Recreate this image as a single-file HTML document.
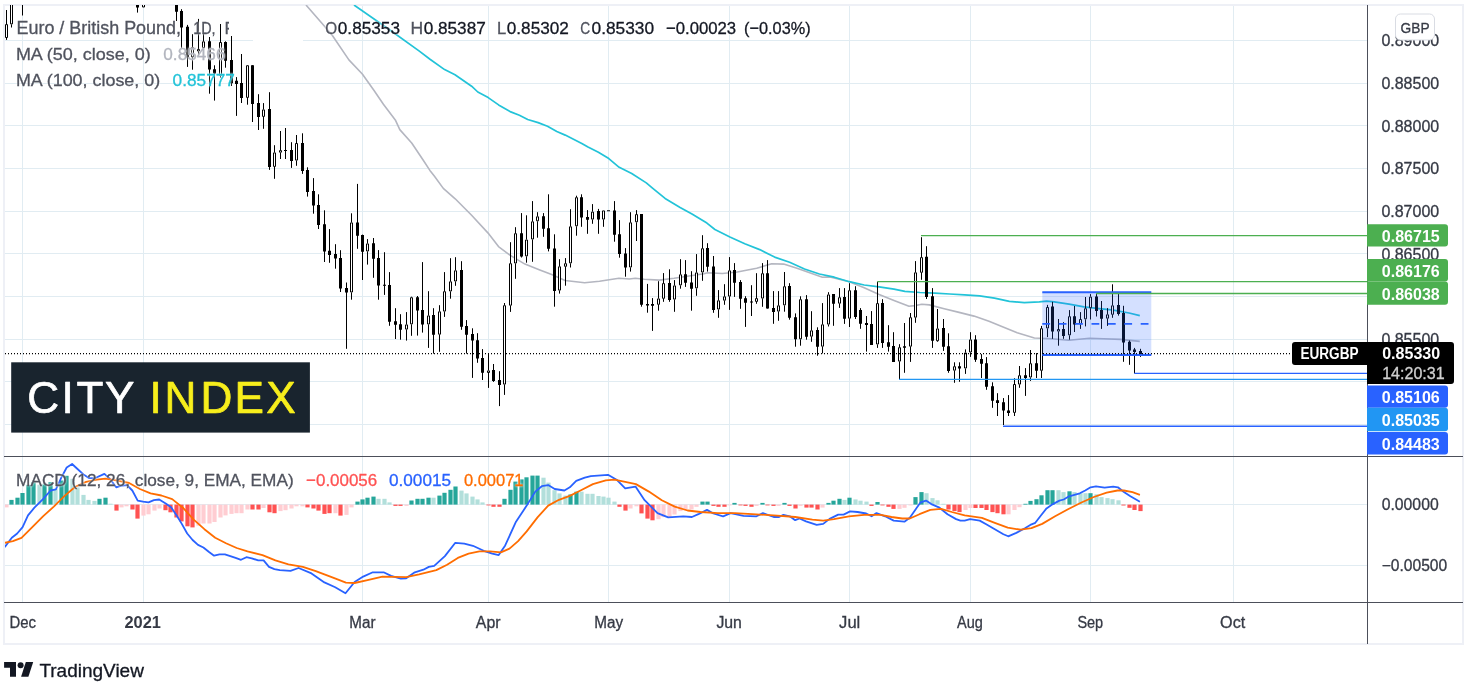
<!DOCTYPE html><html><head><meta charset="utf-8"><title>EURGBP chart</title><style>html,body{margin:0;padding:0;background:#fff}svg{display:block;will-change:transform}</style></head><body><svg width="1478" height="697" viewBox="0 0 1478 697" font-family="&quot;Liberation Sans&quot;, sans-serif">
<rect width="1478" height="697" fill="#fff"/>
<defs><clipPath id="cm"><rect x="5" y="5" width="1362" height="451"/></clipPath><clipPath id="cp"><rect x="5" y="457" width="1362" height="145"/></clipPath></defs>
<rect x="4" y="5" width="1459" height="639" fill="none" stroke="#eef0f6" stroke-width="2"/>
<path d="M5 40.5H1367 M5 83.5H1367 M5 125.5H1367 M5 168.5H1367 M5 211.5H1367 M5 253.5H1367 M5 296.5H1367 M5 339.5H1367 M5 381.5H1367 M5 424.5H1367 M5 504.5H1367 M5 565.5H1367 M22.5 6V602 M143.5 6V602 M362.5 6V602 M488.5 6V602 M608.5 6V602 M729.5 6V602 M849.5 6V602 M970.5 6V602 M1090.5 6V602 M1233.5 6V602" stroke="#e1ecf2" stroke-width="1" fill="none"/>
<rect x="253" y="14" width="50" height="28" fill="#fff"/>
<g clip-path="url(#cm)"><path d="M306.0 5.0 L331.7 34.5 L348.9 59.9 L362.3 74.0 L373.7 90.0 L383.4 104.2 L395.3 119.9 L399.8 129.6 L411.7 143.0 L423.1 160.0 L429.9 170.4 L434.1 175.8 L443.3 188.4 L455.2 198.8 L471.6 215.2 L488.1 233.1 L498.5 246.6 L509.9 255.1 L524.9 264.1 L539.8 270.1 L551.7 274.6 L565.1 280.5 L584.6 282.8 L599.5 281.3 L618.9 278.3 L629.3 279.0 L635.3 278.3 L644.3 279.3 L659.2 280.1 L674.1 278.3 L689.0 276.0 L704.0 273.8 L707.5 272.8 L722.4 273.5 L737.3 272.0 L756.7 268.3 L771.6 263.8 L783.6 264.1 L797.0 268.3 L822.4 277.2 L829.9 276.9 L849.3 281.7 L864.2 287.7 L879.1 294.4 L894.0 300.4 L909.0 306.3 L914.9 305.6 L921.8 304.2 L929.3 304.9 L944.2 308.7 L959.1 312.4 L974.0 316.1 L989.0 321.3 L1000.0 325.8 L1017.2 332.8 L1034.4 338.0 L1051.6 338.8 L1068.8 340.2 L1089.5 338.3 L1103.3 338.8 L1120.5 339.4 L1139.8 341.4" stroke="#b4b6c0" stroke-width="1.6" fill="none" stroke-linejoin="round"/>
<path d="M354.0 5.0 L392.0 31.5 L419.0 50.9 L430.0 59.2 L444.6 69.6 L455.0 74.8 L471.6 86.2 L477.8 92.0 L488.2 97.6 L498.6 104.9 L510.1 111.6 L519.4 115.3 L527.7 119.5 L538.1 122.6 L547.5 126.3 L556.8 131.5 L565.2 135.1 L573.5 139.2 L581.8 143.4 L588.0 147.1 L598.4 152.3 L608.8 158.6 L619.2 167.3 L631.7 173.5 L646.3 182.9 L652.5 188.1 L665.1 198.4 L680.1 207.4 L692.0 214.1 L706.9 223.1 L714.9 229.5 L729.9 236.9 L744.8 243.7 L759.7 249.6 L774.6 257.1 L789.6 262.3 L804.5 269.0 L819.4 274.0 L834.3 277.2 L849.3 281.7 L864.2 285.0 L879.1 286.9 L894.0 289.2 L904.9 291.4 L919.9 292.5 L934.8 293.2 L949.7 294.0 L964.6 294.9 L979.6 295.9 L994.5 298.1 L1009.4 301.4 L1024.3 302.6 L1039.3 301.9 L1046.7 301.1 L1054.2 301.9 L1069.1 304.1 L1084.0 306.8 L1099.0 308.6 L1111.9 309.9 L1129.1 313.0 L1139.8 315.6" stroke="#22c3d8" stroke-width="1.7" fill="none" stroke-linejoin="round"/>
<path d="M6.50 10.0V24.1 M6.50 38.0V39.9 M11.50 24.4V27.5 M22.50 0.0V15.5 M137.50 0.0V12.6 M176.50 0.0V21.0 M181.50 9.2V47.8 M187.50 24.9V66.9 M192.50 34.2V47.1 M192.50 57.4V69.7 M198.50 18.9V48.9 M198.50 51.5V57.0 M203.50 22.4V41.3 M203.50 48.1V54.0 M209.50 37.0V93.7 M214.50 65.3V100.6 M220.50 24.0V42.0 M220.50 75.9V77.6 M225.50 41.3V67.7 M231.50 36.0V86.0 M236.50 77.1V115.9 M241.50 54.0V103.0 M247.50 97.9V104.7 M252.50 65.2V122.0 M258.50 94.2V130.0 M263.50 103.1V109.4 M263.50 116.9V128.8 M269.50 92.2V169.9 M274.50 145.2V152.4 M274.50 166.9V178.8 M280.50 131.0V150.1 M280.50 152.7V159.0 M285.50 128.0V159.0 M291.50 142.2V167.9 M296.50 135.0V143.0 M296.50 160.6V165.8 M302.50 133.3V173.9 M307.50 167.3V196.6 M313.50 178.1V213.7 M318.50 194.3V229.0 M324.50 210.3V262.0 M329.50 229.1V262.8 M335.50 244.2V268.7 M340.50 250.2V292.0 M346.50 282.5V348.8 M351.50 213.3V222.4 M351.50 292.5V299.7 M357.50 183.9V248.8 M362.50 234.6V280.0 M367.50 239.1V243.4 M367.50 251.5V264.6 M373.50 238.0V277.8 M378.50 250.1V299.7 M384.50 252.2V294.9 M389.50 272.1V325.8 M395.50 308.2V339.0 M400.50 314.2V339.7 M406.50 312.1V324.4 M406.50 329.6V340.6 M411.50 296.7V297.2 M411.50 324.4V335.8 M417.50 296.0V335.6 M422.50 262.1V332.6 M428.50 291.2V315.4 M428.50 324.5V347.9 M433.50 308.2V353.6 M439.50 305.2V311.3 M439.50 334.7V351.8 M444.50 272.1V291.2 M444.50 311.6V316.9 M450.50 258.2V281.3 M450.50 291.5V298.7 M455.50 257.2V270.3 M455.50 281.5V285.8 M461.50 261.2V329.8 M466.50 320.1V353.6 M472.50 328.3V377.9 M477.50 333.2V362.8 M482.50 349.1V380.0 M488.50 353.6V370.4 M488.50 373.0V387.9 M493.50 364.0V381.9 M499.50 371.2V406.1 M504.50 303.0V305.2 M504.50 384.6V394.9 M510.50 242.2V263.2 M510.50 305.7V311.9 M515.50 227.2V233.2 M515.50 263.5V278.8 M521.50 213.1V257.5 M526.50 215.3V239.5 M526.50 256.4V262.7 M532.50 201.1V221.3 M532.50 239.5V261.8 M537.50 212.2V216.3 M537.50 221.3V237.7 M543.50 213.1V236.8 M548.50 194.3V251.4 M554.50 234.3V306.7 M559.50 259.2V266.3 M559.50 290.6V293.6 M565.50 258.1V263.2 M565.50 266.8V285.7 M570.50 209.2V226.3 M570.50 263.4V267.5 M576.50 195.7V197.2 M576.50 226.3V235.7 M581.50 194.3V226.8 M587.50 210.1V233.8 M592.50 204.1V211.6 M592.50 219.6V223.8 M598.50 208.9V233.8 M603.50 219.6V226.8 M614.50 201.1V241.7 M619.50 220.1V257.7 M625.50 248.1V276.7 M630.50 212.2V222.3 M630.50 267.5V271.6 M636.50 210.1V214.1 M636.50 222.3V241.0 M641.50 214.1V306.7 M647.50 283.9V312.7 M652.50 298.1V330.9 M658.50 281.2V298.4 M658.50 304.8V310.7 M663.50 273.1V283.1 M663.50 298.8V301.8 M669.50 269.3V301.8 M674.50 280.1V285.4 M674.50 299.6V311.8 M680.50 259.2V274.3 M680.50 285.4V288.7 M685.50 260.1V286.9 M691.50 271.2V310.7 M696.50 254.1V272.4 M696.50 288.4V295.8 M702.50 235.2V248.2 M702.50 272.5V280.8 M707.50 243.2V271.6 M713.50 256.0V312.8 M718.50 290.1V300.3 M718.50 309.5V317.8 M724.50 284.2V296.3 M724.50 300.7V304.8 M729.50 257.1V270.3 M729.50 296.6V309.9 M734.50 263.1V296.9 M740.50 280.1V308.8 M745.50 296.2V326.9 M751.50 285.2V316.0 M756.50 273.2V298.1 M756.50 301.9V303.8 M762.50 263.1V273.2 M762.50 298.6V306.8 M767.50 260.1V308.6 M773.50 291.1V323.8 M778.50 291.1V305.3 M778.50 311.6V320.8 M784.50 272.0V286.2 M784.50 305.4V311.7 M789.50 283.2V319.7 M795.50 313.4V346.7 M800.50 296.3V299.2 M800.50 339.3V345.7 M806.50 295.1V339.7 M811.50 311.2V330.3 M811.50 336.7V341.8 M817.50 327.3V355.7 M822.50 303.1V324.3 M822.50 346.7V353.4 M828.50 292.2V294.4 M828.50 324.6V326.5 M833.50 294.1V325.8 M839.50 288.1V297.2 M839.50 303.7V307.9 M844.50 288.1V323.9 M849.50 283.2V290.2 M849.50 318.7V327.0 M855.50 286.2V319.0 M860.50 308.1V328.8 M866.50 316.0V351.6 M871.50 311.1V344.9 M877.50 281.7V303.1 M877.50 344.5V347.9 M882.50 299.2V347.9 M888.50 325.2V351.6 M893.50 332.2V361.9 M899.50 344.2V347.2 M899.50 361.6V379.3 M904.50 323.0V372.8 M910.50 313.0V317.2 M910.50 346.7V361.9 M915.50 261.1V272.3 M915.50 317.7V322.8 M921.50 237.2V257.1 M921.50 272.8V279.8 M926.50 246.2V299.0 M932.50 288.1V347.9 M937.50 309.0V328.4 M937.50 341.2V341.9 M943.50 319.0V350.9 M948.50 333.3V372.8 M954.50 362.3V366.2 M954.50 370.7V382.8 M959.50 362.3V381.8 M965.50 349.4V352.5 M965.50 368.5V373.9 M970.50 332.2V339.4 M970.50 352.5V356.9 M975.50 335.2V361.9 M981.50 354.1V378.0 M986.50 357.1V389.8 M992.50 382.3V407.8 M997.50 393.2V416.0 M1003.50 398.1V425.0 M1008.50 395.1V416.0 M1014.50 378.2V384.0 M1014.50 412.9V416.0 M1019.50 366.0V375.2 M1019.50 384.6V387.8 M1025.50 368.1V395.9 M1030.50 350.0V363.2 M1030.50 377.5V380.9 M1036.50 353.1V378.0 M1041.50 325.9V328.2 M1041.50 370.8V378.0 M1047.50 304.9V307.0 M1047.50 328.5V337.1 M1052.50 301.8V338.8 M1058.50 319.0V329.0 M1058.50 331.6V345.7 M1063.50 322.1V338.8 M1069.50 310.1V316.2 M1069.50 335.4V339.7 M1074.50 306.0V332.0 M1080.50 312.1V319.0 M1080.50 324.2V328.9 M1085.50 297.0V308.2 M1085.50 319.3V326.4 M1090.50 294.1V296.6 M1090.50 308.2V319.5 M1096.50 293.7V316.5 M1101.50 301.0V328.9 M1107.50 308.1V314.3 M1107.50 318.7V325.9 M1112.50 284.3V305.3 M1112.50 314.8V317.8 M1118.50 293.8V315.6 M1123.50 305.8V361.8 M1129.50 340.5V364.8 M1134.50 347.9V373.4 M1140.50 348.8V356.9" stroke="#000" stroke-width="1" fill="none"/>
<path d="M136.00 0.0h3v7.5h-3z M175.00 0.0h3v11.8h-3z M180.00 11.0h3v16.4h-3z M186.00 26.8h3v30.6h-3z M208.00 41.3h3v28.3h-3z M213.00 69.2h3v4.3h-3z M224.00 42.0h3v18.8h-3z M230.00 60.0h3v23.2h-3z M235.00 80.7h3v3.3h-3z M240.00 83.1h3v14.8h-3z M251.00 65.2h3v38.7h-3z M257.00 103.1h3v13.8h-3z M268.00 109.1h3v57.8h-3z M284.00 149.9h3v1.1h-3z M290.00 150.1h3v10.8h-3z M301.00 143.0h3v27.9h-3z M306.00 170.1h3v21.8h-3z M312.00 191.1h3v14.4h-3z M317.00 205.1h3v19.8h-3z M323.00 224.2h3v27.3h-3z M328.00 250.8h3v4.1h-3z M334.00 254.1h3v4.5h-3z M339.00 258.1h3v30.4h-3z M345.00 288.0h3v4.5h-3z M356.00 222.4h3v13.4h-3z M361.00 235.0h3v16.7h-3z M372.00 243.2h3v15.5h-3z M377.00 258.1h3v27.4h-3z M383.00 284.7h3v1.1h-3z M388.00 285.1h3v36.7h-3z M394.00 321.3h3v3.4h-3z M399.00 324.3h3v5.5h-3z M416.00 297.2h3v13.2h-3z M421.00 310.1h3v14.4h-3z M432.00 315.1h3v19.6h-3z M460.00 270.1h3v56.7h-3z M465.00 326.1h3v8.6h-3z M471.00 334.1h3v6.5h-3z M476.00 340.2h3v18.3h-3z M481.00 358.1h3v14.6h-3z M492.00 370.0h3v10.9h-3z M498.00 380.1h3v4.8h-3z M520.00 233.2h3v23.4h-3z M542.00 216.3h3v12.4h-3z M547.00 228.3h3v20.4h-3z M553.00 248.4h3v42.5h-3z M580.00 197.2h3v20.3h-3z M586.00 217.1h3v2.7h-3z M597.00 211.1h3v8.5h-3z M607.00 210.2h3v1.1h-3z M613.00 210.4h3v24.3h-3z M618.00 234.3h3v19.7h-3z M624.00 253.4h3v14.1h-3z M640.00 214.1h3v90.7h-3z M646.00 304.0h3v1.5h-3z M651.00 304.0h3v1.8h-3z M668.00 283.1h3v16.9h-3z M684.00 274.2h3v8.5h-3z M690.00 282.4h3v6.3h-3z M706.00 248.0h3v18.8h-3z M712.00 266.4h3v43.5h-3z M733.00 270.1h3v12.6h-3z M739.00 282.1h3v16.7h-3z M744.00 298.2h3v4.5h-3z M750.00 301.5h3v1.1h-3z M766.00 273.2h3v35.4h-3z M772.00 308.1h3v3.8h-3z M788.00 285.9h3v31.8h-3z M794.00 317.2h3v22.1h-3z M805.00 299.2h3v37.5h-3z M816.00 330.0h3v16.7h-3z M832.00 294.1h3v9.6h-3z M843.00 297.0h3v21.7h-3z M854.00 290.2h3v26.8h-3z M859.00 310.1h3v13.7h-3z M865.00 322.9h3v2.0h-3z M870.00 324.0h3v20.9h-3z M881.00 303.1h3v39.9h-3z M887.00 342.2h3v4.5h-3z M892.00 346.0h3v15.9h-3z M903.00 346.3h3v1.5h-3z M925.00 256.8h3v40.1h-3z M931.00 296.2h3v44.5h-3z M942.00 328.1h3v18.6h-3z M947.00 346.3h3v24.7h-3z M958.00 366.2h3v2.4h-3z M974.00 339.4h3v20.4h-3z M980.00 359.1h3v4.7h-3z M985.00 363.2h3v23.6h-3z M991.00 386.2h3v14.5h-3z M996.00 400.2h3v2.7h-3z M1002.00 402.2h3v8.2h-3z M1007.00 410.4h3v2.5h-3z M1024.00 375.2h3v2.8h-3z M1035.00 363.2h3v7.6h-3z M1051.00 306.5h3v25.1h-3z M1062.00 329.0h3v6.9h-3z M1073.00 316.2h3v8.3h-3z M1095.00 296.6h3v14.3h-3z M1100.00 310.0h3v8.8h-3z M1117.00 304.9h3v9.0h-3z M1122.00 313.0h3v29.5h-3z M1128.00 341.8h3v8.8h-3z M1133.00 349.5h3v2.4h-3z M1139.00 351.0h3v3.2h-3z" fill="#000"/>
<path d="M5.50 24.6h2v12.9h-2z M10.50 0.5h2v23.4h-2z M142.50 0.5h2v6.5h-2z M191.50 47.6h2v9.3h-2z M197.50 49.4h2v1.6h-2z M202.50 41.8h2v5.8h-2z M219.50 42.5h2v32.9h-2z M246.50 65.7h2v31.7h-2z M262.50 109.9h2v6.5h-2z M273.50 152.9h2v13.5h-2z M279.50 150.6h2v1.6h-2z M295.50 143.5h2v16.6h-2z M350.50 222.9h2v69.1h-2z M366.50 243.9h2v7.1h-2z M405.50 324.9h2v4.2h-2z M410.50 297.7h2v26.2h-2z M427.50 315.9h2v8.1h-2z M438.50 311.8h2v22.4h-2z M443.50 291.7h2v19.4h-2z M449.50 281.8h2v9.2h-2z M454.50 270.8h2v10.2h-2z M487.50 370.9h2v1.6h-2z M503.50 305.7h2v78.4h-2z M509.50 263.7h2v41.5h-2z M514.50 233.7h2v29.3h-2z M525.50 240.0h2v15.9h-2z M531.50 221.8h2v17.2h-2z M536.50 216.8h2v4.0h-2z M558.50 266.8h2v23.3h-2z M564.50 263.7h2v2.6h-2z M569.50 226.8h2v36.1h-2z M575.50 197.7h2v28.1h-2z M591.50 212.1h2v7.0h-2z M602.50 210.9h2v8.2h-2z M629.50 222.8h2v44.2h-2z M635.50 214.6h2v7.2h-2z M657.50 298.9h2v5.4h-2z M662.50 283.6h2v14.7h-2z M673.50 285.9h2v13.2h-2z M679.50 274.8h2v10.1h-2z M695.50 272.9h2v15.0h-2z M701.50 248.7h2v23.3h-2z M717.50 300.8h2v8.2h-2z M723.50 296.8h2v3.4h-2z M728.50 270.8h2v25.3h-2z M755.50 298.6h2v2.8h-2z M761.50 273.7h2v24.4h-2z M777.50 305.8h2v5.3h-2z M783.50 286.7h2v18.2h-2z M799.50 299.7h2v39.1h-2z M810.50 330.8h2v5.4h-2z M821.50 324.8h2v21.4h-2z M827.50 294.9h2v29.2h-2z M838.50 297.7h2v5.5h-2z M848.50 290.7h2v27.5h-2z M876.50 303.6h2v40.4h-2z M898.50 347.7h2v13.4h-2z M909.50 317.7h2v28.5h-2z M914.50 272.8h2v44.4h-2z M920.50 257.6h2v14.7h-2z M936.50 328.9h2v11.8h-2z M953.50 366.7h2v3.5h-2z M964.50 353.0h2v15.0h-2z M969.50 339.9h2v12.1h-2z M1013.50 384.5h2v27.9h-2z M1018.50 375.7h2v8.4h-2z M1029.50 363.7h2v13.3h-2z M1040.50 328.7h2v41.6h-2z M1046.50 307.5h2v20.5h-2z M1057.50 329.5h2v1.6h-2z M1068.50 316.7h2v18.2h-2z M1079.50 319.5h2v4.2h-2z M1084.50 308.7h2v10.1h-2z M1089.50 297.1h2v10.6h-2z M1106.50 314.8h2v3.4h-2z M1111.50 305.8h2v8.5h-2z" fill="#fff" stroke="#000" stroke-width="1"/>
</g>
<rect x="1042.3" y="292" width="109" height="63" fill="#2962ff" fill-opacity="0.2"/>
<path d="M1042.3 292.3H1151.3M1042.3 355H1151.3" stroke="#2962ff" stroke-width="2"/>
<path d="M1042.3 323.9H1151.3" stroke="#2962ff" stroke-width="1.6" stroke-dasharray="7.8 8.6"/>
<path d="M921 235.6H1367M877.3 281.6H1367M1096 293.5H1367" stroke="#4caf50" stroke-width="1.3" fill="none"/>
<path d="M1134.3 373.4H1367M1003 426.2H1367" stroke="#2962ff" stroke-width="1.4" fill="none"/>
<path d="M899 379.4H1367" stroke="#2196f3" stroke-width="1.4" fill="none"/>
<path d="M5 353.6H1367" stroke="#000" stroke-width="1.1" stroke-dasharray="1 2"/>
<g clip-path="url(#cp)">
<rect x="4.40" y="504.6" width="4.2" height="2.8" fill="#ffcdd2"/>
<rect x="9.40" y="499.9" width="4.2" height="4.7" fill="#26a69a"/>
<rect x="15.40" y="497.7" width="4.2" height="6.9" fill="#26a69a"/>
<rect x="20.40" y="493.0" width="4.2" height="11.6" fill="#26a69a"/>
<rect x="26.40" y="484.8" width="4.2" height="19.8" fill="#26a69a"/>
<rect x="31.40" y="482.2" width="4.2" height="22.4" fill="#26a69a"/>
<rect x="37.40" y="484.8" width="4.2" height="19.8" fill="#b2dfdb"/>
<rect x="42.40" y="484.4" width="4.2" height="20.2" fill="#26a69a"/>
<rect x="48.40" y="482.2" width="4.2" height="22.4" fill="#26a69a"/>
<rect x="53.40" y="489.1" width="4.2" height="15.5" fill="#b2dfdb"/>
<rect x="59.40" y="480.5" width="4.2" height="24.1" fill="#26a69a"/>
<rect x="64.40" y="475.8" width="4.2" height="28.8" fill="#26a69a"/>
<rect x="70.40" y="478.8" width="4.2" height="25.8" fill="#b2dfdb"/>
<rect x="75.40" y="487.4" width="4.2" height="17.2" fill="#b2dfdb"/>
<rect x="81.40" y="494.9" width="4.2" height="9.7" fill="#b2dfdb"/>
<rect x="86.40" y="499.9" width="4.2" height="4.7" fill="#b2dfdb"/>
<rect x="92.40" y="500.9" width="4.2" height="3.7" fill="#b2dfdb"/>
<rect x="97.40" y="498.8" width="4.2" height="5.8" fill="#26a69a"/>
<rect x="103.40" y="497.7" width="4.2" height="6.9" fill="#26a69a"/>
<rect x="108.40" y="503.7" width="4.2" height="0.9" fill="#b2dfdb"/>
<rect x="114.40" y="504.6" width="4.2" height="6.0" fill="#ff5252"/>
<rect x="119.40" y="504.6" width="4.2" height="2.8" fill="#ffcdd2"/>
<rect x="124.40" y="504.6" width="4.2" height="1.7" fill="#ffcdd2"/>
<rect x="130.40" y="504.6" width="4.2" height="4.9" fill="#ff5252"/>
<rect x="135.40" y="504.6" width="4.2" height="14.0" fill="#ff5252"/>
<rect x="141.40" y="504.6" width="4.2" height="11.0" fill="#ffcdd2"/>
<rect x="146.40" y="504.6" width="4.2" height="9.7" fill="#ffcdd2"/>
<rect x="152.40" y="504.6" width="4.2" height="6.0" fill="#ffcdd2"/>
<rect x="157.40" y="504.6" width="4.2" height="3.9" fill="#ffcdd2"/>
<rect x="163.40" y="504.6" width="4.2" height="5.6" fill="#ff5252"/>
<rect x="168.40" y="504.6" width="4.2" height="7.7" fill="#ff5252"/>
<rect x="174.40" y="504.6" width="4.2" height="12.9" fill="#ff5252"/>
<rect x="179.40" y="504.6" width="4.2" height="16.8" fill="#ff5252"/>
<rect x="185.40" y="504.6" width="4.2" height="21.7" fill="#ff5252"/>
<rect x="190.40" y="504.6" width="4.2" height="22.8" fill="#ff5252"/>
<rect x="196.40" y="504.6" width="4.2" height="21.1" fill="#ffcdd2"/>
<rect x="201.40" y="504.6" width="4.2" height="18.9" fill="#ffcdd2"/>
<rect x="207.40" y="504.6" width="4.2" height="18.9" fill="#ffcdd2"/>
<rect x="212.40" y="504.6" width="4.2" height="17.4" fill="#ffcdd2"/>
<rect x="218.40" y="504.6" width="4.2" height="12.9" fill="#ffcdd2"/>
<rect x="223.40" y="504.6" width="4.2" height="10.8" fill="#ffcdd2"/>
<rect x="229.40" y="504.6" width="4.2" height="9.3" fill="#ffcdd2"/>
<rect x="234.40" y="504.6" width="4.2" height="8.6" fill="#ffcdd2"/>
<rect x="239.40" y="504.6" width="4.2" height="8.6" fill="#ffcdd2"/>
<rect x="245.40" y="504.6" width="4.2" height="4.9" fill="#ffcdd2"/>
<rect x="250.40" y="504.6" width="4.2" height="4.9" fill="#ff5252"/>
<rect x="256.40" y="504.6" width="4.2" height="4.9" fill="#ff5252"/>
<rect x="261.40" y="504.6" width="4.2" height="3.4" fill="#ffcdd2"/>
<rect x="267.40" y="504.6" width="4.2" height="7.7" fill="#ff5252"/>
<rect x="272.40" y="504.6" width="4.2" height="8.6" fill="#ff5252"/>
<rect x="278.40" y="504.6" width="4.2" height="6.5" fill="#ffcdd2"/>
<rect x="283.40" y="504.6" width="4.2" height="5.6" fill="#ffcdd2"/>
<rect x="289.40" y="504.6" width="4.2" height="3.9" fill="#ffcdd2"/>
<rect x="294.40" y="504.6" width="4.2" height="1.7" fill="#ffcdd2"/>
<rect x="300.40" y="504.6" width="4.2" height="1.7" fill="#ffcdd2"/>
<rect x="305.40" y="504.6" width="4.2" height="2.8" fill="#ff5252"/>
<rect x="311.40" y="504.6" width="4.2" height="3.9" fill="#ff5252"/>
<rect x="316.40" y="504.6" width="4.2" height="6.0" fill="#ff5252"/>
<rect x="322.40" y="504.6" width="4.2" height="9.3" fill="#ff5252"/>
<rect x="327.40" y="504.6" width="4.2" height="8.6" fill="#ff5252"/>
<rect x="333.40" y="504.6" width="4.2" height="8.6" fill="#ffcdd2"/>
<rect x="338.40" y="504.6" width="4.2" height="11.0" fill="#ff5252"/>
<rect x="344.40" y="504.6" width="4.2" height="10.3" fill="#ffcdd2"/>
<rect x="349.40" y="504.6" width="4.2" height="2.8" fill="#ffcdd2"/>
<rect x="355.40" y="501.6" width="4.2" height="3.0" fill="#26a69a"/>
<rect x="360.40" y="499.4" width="4.2" height="5.2" fill="#26a69a"/>
<rect x="365.40" y="497.7" width="4.2" height="6.9" fill="#26a69a"/>
<rect x="371.40" y="496.6" width="4.2" height="8.0" fill="#26a69a"/>
<rect x="376.40" y="498.8" width="4.2" height="5.8" fill="#b2dfdb"/>
<rect x="382.40" y="498.8" width="4.2" height="5.8" fill="#b2dfdb"/>
<rect x="387.40" y="502.4" width="4.2" height="2.2" fill="#b2dfdb"/>
<rect x="393.40" y="504.6" width="4.2" height="1.3" fill="#ff5252"/>
<rect x="398.40" y="504.6" width="4.2" height="1.3" fill="#ff5252"/>
<rect x="404.40" y="504.6" width="4.2" height="1.3" fill="#ffcdd2"/>
<rect x="409.40" y="500.5" width="4.2" height="4.1" fill="#26a69a"/>
<rect x="415.40" y="498.8" width="4.2" height="5.8" fill="#26a69a"/>
<rect x="420.40" y="498.8" width="4.2" height="5.8" fill="#26a69a"/>
<rect x="426.40" y="497.7" width="4.2" height="6.9" fill="#26a69a"/>
<rect x="431.40" y="497.7" width="4.2" height="6.9" fill="#b2dfdb"/>
<rect x="437.40" y="495.6" width="4.2" height="9.0" fill="#26a69a"/>
<rect x="442.40" y="492.8" width="4.2" height="11.8" fill="#26a69a"/>
<rect x="448.40" y="489.8" width="4.2" height="14.8" fill="#26a69a"/>
<rect x="453.40" y="486.5" width="4.2" height="18.1" fill="#26a69a"/>
<rect x="459.40" y="490.6" width="4.2" height="14.0" fill="#b2dfdb"/>
<rect x="464.40" y="493.4" width="4.2" height="11.2" fill="#b2dfdb"/>
<rect x="470.40" y="496.6" width="4.2" height="8.0" fill="#b2dfdb"/>
<rect x="475.40" y="499.4" width="4.2" height="5.2" fill="#b2dfdb"/>
<rect x="480.40" y="502.4" width="4.2" height="2.2" fill="#b2dfdb"/>
<rect x="486.40" y="504.6" width="4.2" height="0.8" fill="#ff5252"/>
<rect x="491.40" y="504.6" width="4.2" height="2.2" fill="#ff5252"/>
<rect x="497.40" y="504.6" width="4.2" height="2.2" fill="#ff5252"/>
<rect x="502.40" y="498.8" width="4.2" height="5.8" fill="#26a69a"/>
<rect x="508.40" y="489.8" width="4.2" height="14.8" fill="#26a69a"/>
<rect x="513.40" y="481.6" width="4.2" height="23.0" fill="#26a69a"/>
<rect x="519.40" y="479.4" width="4.2" height="25.2" fill="#26a69a"/>
<rect x="524.40" y="477.3" width="4.2" height="27.3" fill="#26a69a"/>
<rect x="530.40" y="475.6" width="4.2" height="29.0" fill="#26a69a"/>
<rect x="535.40" y="475.6" width="4.2" height="29.0" fill="#26a69a"/>
<rect x="541.40" y="477.7" width="4.2" height="26.9" fill="#b2dfdb"/>
<rect x="546.40" y="482.6" width="4.2" height="22.0" fill="#b2dfdb"/>
<rect x="552.40" y="490.2" width="4.2" height="14.4" fill="#b2dfdb"/>
<rect x="557.40" y="493.4" width="4.2" height="11.2" fill="#b2dfdb"/>
<rect x="563.40" y="495.6" width="4.2" height="9.0" fill="#b2dfdb"/>
<rect x="568.40" y="494.5" width="4.2" height="10.1" fill="#26a69a"/>
<rect x="574.40" y="491.7" width="4.2" height="12.9" fill="#26a69a"/>
<rect x="579.40" y="491.7" width="4.2" height="12.9" fill="#b2dfdb"/>
<rect x="585.40" y="493.8" width="4.2" height="10.8" fill="#b2dfdb"/>
<rect x="590.40" y="493.8" width="4.2" height="10.8" fill="#b2dfdb"/>
<rect x="596.40" y="496.0" width="4.2" height="8.6" fill="#b2dfdb"/>
<rect x="601.40" y="496.6" width="4.2" height="8.0" fill="#b2dfdb"/>
<rect x="606.40" y="497.7" width="4.2" height="6.9" fill="#b2dfdb"/>
<rect x="612.40" y="501.6" width="4.2" height="3.0" fill="#b2dfdb"/>
<rect x="617.40" y="504.6" width="4.2" height="2.2" fill="#ff5252"/>
<rect x="623.40" y="504.6" width="4.2" height="6.0" fill="#ff5252"/>
<rect x="628.40" y="504.6" width="4.2" height="3.9" fill="#ffcdd2"/>
<rect x="634.40" y="504.6" width="4.2" height="1.7" fill="#ffcdd2"/>
<rect x="639.40" y="504.6" width="4.2" height="8.8" fill="#ff5252"/>
<rect x="645.40" y="504.6" width="4.2" height="14.0" fill="#ff5252"/>
<rect x="650.40" y="504.6" width="4.2" height="15.7" fill="#ff5252"/>
<rect x="656.40" y="504.6" width="4.2" height="14.6" fill="#ffcdd2"/>
<rect x="661.40" y="504.6" width="4.2" height="12.5" fill="#ffcdd2"/>
<rect x="667.40" y="504.6" width="4.2" height="12.5" fill="#ffcdd2"/>
<rect x="672.40" y="504.6" width="4.2" height="9.9" fill="#ffcdd2"/>
<rect x="678.40" y="504.6" width="4.2" height="6.5" fill="#ffcdd2"/>
<rect x="683.40" y="504.6" width="4.2" height="4.9" fill="#ffcdd2"/>
<rect x="689.40" y="504.6" width="4.2" height="4.9" fill="#ffcdd2"/>
<rect x="694.40" y="504.6" width="4.2" height="2.2" fill="#ffcdd2"/>
<rect x="700.40" y="501.6" width="4.2" height="3.0" fill="#26a69a"/>
<rect x="705.40" y="501.6" width="4.2" height="3.0" fill="#26a69a"/>
<rect x="711.40" y="504.6" width="4.2" height="1.3" fill="#ff5252"/>
<rect x="716.40" y="504.6" width="4.2" height="2.2" fill="#ff5252"/>
<rect x="722.40" y="504.6" width="4.2" height="2.2" fill="#ff5252"/>
<rect x="727.40" y="504.6" width="4.2" height="0.8" fill="#ffcdd2"/>
<rect x="732.40" y="502.9" width="4.2" height="1.7" fill="#26a69a"/>
<rect x="738.40" y="504.6" width="4.2" height="0.8" fill="#ff5252"/>
<rect x="743.40" y="504.6" width="4.2" height="1.3" fill="#ff5252"/>
<rect x="749.40" y="504.6" width="4.2" height="2.2" fill="#ff5252"/>
<rect x="754.40" y="504.6" width="4.2" height="1.3" fill="#ffcdd2"/>
<rect x="760.40" y="502.9" width="4.2" height="1.7" fill="#26a69a"/>
<rect x="765.40" y="504.6" width="4.2" height="0.8" fill="#ff5252"/>
<rect x="771.40" y="504.6" width="4.2" height="1.3" fill="#ff5252"/>
<rect x="776.40" y="504.6" width="4.2" height="1.3" fill="#ffcdd2"/>
<rect x="782.40" y="502.9" width="4.2" height="1.7" fill="#26a69a"/>
<rect x="787.40" y="504.6" width="4.2" height="1.3" fill="#ff5252"/>
<rect x="793.40" y="504.6" width="4.2" height="3.9" fill="#ff5252"/>
<rect x="798.40" y="504.6" width="4.2" height="1.3" fill="#ffcdd2"/>
<rect x="804.40" y="504.6" width="4.2" height="3.0" fill="#ff5252"/>
<rect x="809.40" y="504.6" width="4.2" height="3.0" fill="#ff5252"/>
<rect x="815.40" y="504.6" width="4.2" height="4.9" fill="#ff5252"/>
<rect x="820.40" y="504.6" width="4.2" height="3.0" fill="#ffcdd2"/>
<rect x="826.40" y="502.9" width="4.2" height="1.7" fill="#26a69a"/>
<rect x="831.40" y="500.7" width="4.2" height="3.9" fill="#26a69a"/>
<rect x="837.40" y="498.8" width="4.2" height="5.8" fill="#26a69a"/>
<rect x="842.40" y="499.9" width="4.2" height="4.7" fill="#b2dfdb"/>
<rect x="847.40" y="497.7" width="4.2" height="6.9" fill="#26a69a"/>
<rect x="853.40" y="499.4" width="4.2" height="5.2" fill="#b2dfdb"/>
<rect x="858.40" y="500.7" width="4.2" height="3.9" fill="#b2dfdb"/>
<rect x="864.40" y="501.6" width="4.2" height="3.0" fill="#b2dfdb"/>
<rect x="869.40" y="504.6" width="4.2" height="1.3" fill="#ff5252"/>
<rect x="875.40" y="502.0" width="4.2" height="2.6" fill="#26a69a"/>
<rect x="880.40" y="504.6" width="4.2" height="0.8" fill="#ff5252"/>
<rect x="886.40" y="504.6" width="4.2" height="2.2" fill="#ff5252"/>
<rect x="891.40" y="504.6" width="4.2" height="4.3" fill="#ff5252"/>
<rect x="897.40" y="504.6" width="4.2" height="4.3" fill="#ffcdd2"/>
<rect x="902.40" y="504.6" width="4.2" height="3.2" fill="#ffcdd2"/>
<rect x="908.40" y="504.6" width="4.2" height="0.8" fill="#ffcdd2"/>
<rect x="913.40" y="497.1" width="4.2" height="7.5" fill="#26a69a"/>
<rect x="919.40" y="492.1" width="4.2" height="12.5" fill="#26a69a"/>
<rect x="924.40" y="493.2" width="4.2" height="11.4" fill="#b2dfdb"/>
<rect x="930.40" y="498.1" width="4.2" height="6.5" fill="#b2dfdb"/>
<rect x="935.40" y="500.3" width="4.2" height="4.3" fill="#b2dfdb"/>
<rect x="941.40" y="503.8" width="4.2" height="0.8" fill="#b2dfdb"/>
<rect x="946.40" y="504.6" width="4.2" height="4.9" fill="#ff5252"/>
<rect x="952.40" y="504.6" width="4.2" height="6.5" fill="#ff5252"/>
<rect x="957.40" y="504.6" width="4.2" height="7.5" fill="#ff5252"/>
<rect x="963.40" y="504.6" width="4.2" height="5.4" fill="#ffcdd2"/>
<rect x="968.40" y="504.6" width="4.2" height="3.4" fill="#ffcdd2"/>
<rect x="973.40" y="504.6" width="4.2" height="3.4" fill="#ff5252"/>
<rect x="979.40" y="504.6" width="4.2" height="3.4" fill="#ff5252"/>
<rect x="984.40" y="504.6" width="4.2" height="5.4" fill="#ff5252"/>
<rect x="990.40" y="504.6" width="4.2" height="7.5" fill="#ff5252"/>
<rect x="995.40" y="504.6" width="4.2" height="8.6" fill="#ff5252"/>
<rect x="1001.40" y="504.6" width="4.2" height="9.7" fill="#ff5252"/>
<rect x="1006.40" y="504.6" width="4.2" height="9.7" fill="#ffcdd2"/>
<rect x="1012.40" y="504.6" width="4.2" height="5.4" fill="#ffcdd2"/>
<rect x="1017.40" y="504.6" width="4.2" height="2.6" fill="#ffcdd2"/>
<rect x="1023.40" y="503.8" width="4.2" height="0.8" fill="#26a69a"/>
<rect x="1028.40" y="500.9" width="4.2" height="3.7" fill="#26a69a"/>
<rect x="1034.40" y="499.2" width="4.2" height="5.4" fill="#26a69a"/>
<rect x="1039.40" y="495.3" width="4.2" height="9.3" fill="#26a69a"/>
<rect x="1045.40" y="490.2" width="4.2" height="14.4" fill="#26a69a"/>
<rect x="1050.40" y="490.2" width="4.2" height="14.4" fill="#26a69a"/>
<rect x="1056.40" y="490.2" width="4.2" height="14.4" fill="#b2dfdb"/>
<rect x="1061.40" y="492.1" width="4.2" height="12.5" fill="#b2dfdb"/>
<rect x="1067.40" y="491.3" width="4.2" height="13.3" fill="#26a69a"/>
<rect x="1072.40" y="492.1" width="4.2" height="12.5" fill="#b2dfdb"/>
<rect x="1078.40" y="493.2" width="4.2" height="11.4" fill="#b2dfdb"/>
<rect x="1083.40" y="493.2" width="4.2" height="11.4" fill="#b2dfdb"/>
<rect x="1088.40" y="493.2" width="4.2" height="11.4" fill="#26a69a"/>
<rect x="1094.40" y="494.3" width="4.2" height="10.3" fill="#b2dfdb"/>
<rect x="1099.40" y="497.1" width="4.2" height="7.5" fill="#b2dfdb"/>
<rect x="1105.40" y="498.1" width="4.2" height="6.5" fill="#b2dfdb"/>
<rect x="1110.40" y="499.2" width="4.2" height="5.4" fill="#b2dfdb"/>
<rect x="1116.40" y="500.3" width="4.2" height="4.3" fill="#b2dfdb"/>
<rect x="1121.40" y="504.6" width="4.2" height="0.9" fill="#ff5252"/>
<rect x="1127.40" y="504.6" width="4.2" height="3.2" fill="#ff5252"/>
<rect x="1132.40" y="504.6" width="4.2" height="5.4" fill="#ff5252"/>
<rect x="1138.40" y="504.6" width="4.2" height="6.5" fill="#ff5252"/>
<path d="M4.7 547.1 L11.8 537.8 L17.2 533.5 L22.6 527.1 L28.0 515.3 L34.4 507.7 L43.0 499.1 L50.6 490.5 L55.9 489.4 L61.3 477.6 L66.7 467.5 L72.1 464.0 L77.5 469.0 L83.9 474.8 L89.3 478.2 L94.7 478.2 L104.4 473.9 L109.7 478.7 L116.2 487.3 L120.5 485.8 L127.0 485.1 L132.3 490.5 L137.7 500.6 L143.1 501.7 L148.5 502.3 L153.9 500.2 L159.2 499.5 L165.7 503.4 L171.1 507.3 L176.5 515.3 L181.8 523.9 L187.2 533.5 L192.6 540.0 L198.0 544.9 L203.4 547.5 L208.7 551.8 L214.1 555.7 L219.5 554.4 L224.9 554.4 L230.3 556.1 L235.6 557.9 L241.0 559.8 L246.4 557.2 L251.8 558.3 L258.2 560.4 L263.6 560.4 L269.0 566.9 L274.4 569.1 L279.8 570.1 L290.5 570.8 L298.6 568.0 L311.5 573.4 L324.4 582.4 L335.2 587.3 L345.5 593.2 L354.6 582.0 L363.2 576.6 L372.8 572.3 L383.6 572.3 L391.1 575.9 L400.8 578.7 L406.2 578.3 L414.8 572.3 L423.4 569.7 L428.8 566.9 L434.2 565.8 L444.9 556.1 L455.3 542.8 L464.3 543.7 L472.9 545.8 L483.7 550.8 L492.3 553.6 L498.7 555.1 L505.2 545.4 L516.0 521.7 L526.7 505.6 L535.3 491.6 L541.8 486.2 L548.2 485.1 L554.7 489.0 L564.4 490.5 L569.8 487.3 L576.2 480.8 L584.8 477.6 L590.8 476.1 L608.0 474.8 L616.6 479.7 L625.2 488.4 L635.5 486.6 L644.6 500.2 L657.5 513.1 L668.2 517.4 L683.3 516.3 L691.9 517.0 L698.4 514.2 L707.0 509.9 L713.4 513.5 L723.1 516.3 L730.6 513.1 L743.5 515.9 L756.5 516.3 L762.9 513.1 L773.7 517.0 L779.1 517.0 L783.4 514.8 L789.8 516.3 L795.2 520.2 L799.5 518.5 L806.0 521.3 L816.7 524.9 L823.2 523.9 L829.6 518.9 L838.2 514.6 L843.6 514.6 L850.1 511.4 L857.6 512.0 L866.2 513.5 L871.6 516.3 L876.5 513.1 L885.1 516.3 L893.7 520.6 L904.4 521.7 L909.8 517.8 L915.2 509.9 L920.6 502.3 L926.0 500.6 L931.3 504.1 L938.9 507.3 L947.5 514.2 L956.1 519.1 L960.4 520.6 L964.7 520.6 L970.1 519.1 L979.7 520.6 L986.2 524.3 L994.8 529.2 L1003.4 534.2 L1008.2 536.3 L1016.3 532.9 L1024.9 528.2 L1030.3 524.9 L1035.3 522.8 L1041.1 515.3 L1046.5 508.4 L1052.9 504.1 L1059.4 500.6 L1063.7 499.5 L1069.1 496.3 L1079.8 493.3 L1085.2 490.5 L1090.6 487.3 L1096.0 486.4 L1104.6 487.7 L1113.2 486.6 L1117.9 487.3 L1123.9 492.0 L1130.4 496.3 L1139.9 501.7" stroke="#2962ff" stroke-width="1.8" fill="none" stroke-linejoin="round"/>
<path d="M4.7 542.8 L12.9 541.1 L21.5 537.8 L32.3 527.1 L43.0 516.3 L53.8 506.6 L64.6 495.9 L75.3 486.8 L86.1 481.9 L96.8 479.7 L105.4 478.7 L116.2 480.4 L129.1 483.0 L139.9 489.0 L150.6 493.3 L161.4 495.5 L172.2 499.1 L182.9 507.7 L193.7 519.6 L204.4 529.2 L215.2 537.8 L226.0 543.2 L236.7 548.0 L247.5 551.4 L262.5 555.1 L275.4 560.4 L288.4 564.3 L302.9 566.9 L315.8 571.2 L333.0 577.7 L345.9 582.6 L354.6 583.0 L367.5 580.2 L382.5 576.6 L406.2 577.2 L419.1 574.4 L436.3 570.1 L447.1 564.7 L457.8 557.9 L468.6 553.6 L479.4 551.4 L490.1 551.4 L500.9 552.3 L509.5 548.6 L518.1 541.1 L526.7 531.4 L537.5 517.4 L548.2 505.6 L559.0 499.8 L569.8 495.9 L580.5 490.5 L592.9 484.1 L605.8 480.4 L614.4 479.7 L625.2 481.9 L635.9 484.1 L648.9 491.6 L661.8 500.2 L674.7 506.6 L687.6 510.5 L700.5 512.0 L717.7 513.1 L734.9 513.1 L752.2 514.2 L773.7 515.3 L795.2 517.0 L812.4 519.6 L823.2 520.6 L833.9 519.1 L849.0 516.3 L864.1 514.8 L880.8 514.8 L891.5 517.0 L902.3 518.5 L909.8 518.5 L919.5 514.2 L930.3 509.9 L941.0 508.8 L951.8 512.0 L964.7 515.3 L981.9 517.8 L994.8 522.8 L1007.7 527.7 L1020.6 529.7 L1031.4 528.2 L1042.2 523.9 L1055.1 516.3 L1068.0 509.2 L1080.9 502.8 L1093.8 497.0 L1106.7 492.7 L1117.5 490.5 L1123.9 490.5 L1132.5 492.2 L1139.9 494.8" stroke="#ff6d00" stroke-width="1.8" fill="none" stroke-linejoin="round"/>
</g>
<path d="M4 456.5H1463M4 602.5H1463M1367.5 5V644" stroke="#4c4f5a" stroke-width="1" fill="none"/>
<text x="1381.4" y="46" font-size="15.6" fill="#363a45" textLength="57.8" lengthAdjust="spacingAndGlyphs" stroke="#363a45" stroke-width="0.3" >0.89000</text>
<text x="1381.4" y="89" font-size="15.6" fill="#363a45" textLength="57.8" lengthAdjust="spacingAndGlyphs" stroke="#363a45" stroke-width="0.3" >0.88500</text>
<text x="1381.4" y="131.6" font-size="15.6" fill="#363a45" textLength="57.8" lengthAdjust="spacingAndGlyphs" stroke="#363a45" stroke-width="0.3" >0.88000</text>
<text x="1381.4" y="174.2" font-size="15.6" fill="#363a45" textLength="57.8" lengthAdjust="spacingAndGlyphs" stroke="#363a45" stroke-width="0.3" >0.87500</text>
<text x="1381.4" y="217" font-size="15.6" fill="#363a45" textLength="57.8" lengthAdjust="spacingAndGlyphs" stroke="#363a45" stroke-width="0.3" >0.87000</text>
<text x="1381.4" y="259.6" font-size="15.6" fill="#363a45" textLength="57.8" lengthAdjust="spacingAndGlyphs" stroke="#363a45" stroke-width="0.3" >0.86500</text>
<text x="1381.4" y="344.8" font-size="15.6" fill="#363a45" textLength="57.8" lengthAdjust="spacingAndGlyphs" stroke="#363a45" stroke-width="0.3" >0.85500</text>
<rect x="1395.5" y="14" width="39" height="26" rx="5" fill="#fff" stroke="#d9dce3" stroke-width="1"/>
<text x="1400.6" y="32.7" font-size="15.4" fill="#363a45" textLength="29" lengthAdjust="spacingAndGlyphs" stroke="#363a45" stroke-width="0.3" >GBP</text>
<path d="M1367 224.2H1445a3 3 0 0 1 3 3V243.5a3 3 0 0 1 -3 3H1367z" fill="#4caf50"/>
<text x="1381.8" y="242" font-size="15.6" fill="#fff" textLength="58" lengthAdjust="spacingAndGlyphs" font-weight="bold" >0.86715</text>
<path d="M1367 259.1H1445a3 3 0 0 1 3 3V278.6a3 3 0 0 1 -3 3H1367z" fill="#4caf50"/>
<text x="1381.8" y="277.2" font-size="15.6" fill="#fff" textLength="58" lengthAdjust="spacingAndGlyphs" font-weight="bold" >0.86176</text>
<path d="M1367 281.6H1445a3 3 0 0 1 3 3V301.7a3 3 0 0 1 -3 3H1367z" fill="#4caf50"/>
<text x="1381.8" y="299.6" font-size="15.6" fill="#fff" textLength="58" lengthAdjust="spacingAndGlyphs" font-weight="bold" >0.86038</text>
<path d="M1295 342H1451a3 3 0 0 1 3 3V381a3 3 0 0 1 -3 3H1367V365H1295a3 3 0 0 1 -3 -3V345a3 3 0 0 1 3 -3z" fill="#000"/>
<text x="1300.4" y="359.4" font-size="15.6" fill="#fff" textLength="58.2" lengthAdjust="spacingAndGlyphs" font-weight="bold" >EURGBP</text>
<text x="1382.2" y="359.4" font-size="15.6" fill="#fff" textLength="58" lengthAdjust="spacingAndGlyphs" font-weight="bold" >0.85330</text>
<text x="1382.2" y="378.6" font-size="15.6" fill="#d0d0d0" textLength="62.5" lengthAdjust="spacingAndGlyphs" stroke="#d0d0d0" stroke-width="0.3" >14:20:31</text>
<path d="M1367 385.6H1445a3 3 0 0 1 3 3V404.8a3 3 0 0 1 -3 3H1367z" fill="#2962ff"/>
<text x="1381.8" y="403" font-size="15.6" fill="#fff" textLength="58" lengthAdjust="spacingAndGlyphs" font-weight="bold" >0.85106</text>
<path d="M1367 407.8H1445a3 3 0 0 1 3 3V428.2a3 3 0 0 1 -3 3H1367z" fill="#2196f3"/>
<text x="1381.8" y="425.6" font-size="15.6" fill="#fff" textLength="58" lengthAdjust="spacingAndGlyphs" font-weight="bold" >0.85035</text>
<path d="M1367 431.9H1445a3 3 0 0 1 3 3V451.6a3 3 0 0 1 -3 3H1367z" fill="#2962ff"/>
<text x="1381.8" y="449.9" font-size="15.6" fill="#fff" textLength="58" lengthAdjust="spacingAndGlyphs" font-weight="bold" >0.84483</text>
<text x="1381.7" y="510.3" font-size="15.6" fill="#363a45" textLength="57" lengthAdjust="spacingAndGlyphs" stroke="#363a45" stroke-width="0.3" >0.00000</text>
<text x="1381.7" y="571.2" font-size="15.6" fill="#363a45" textLength="65.5" lengthAdjust="spacingAndGlyphs" stroke="#363a45" stroke-width="0.3" >−0.00500</text>
<text x="9.5" y="627.9" font-size="15.6" fill="#363a45" textLength="26.5" lengthAdjust="spacingAndGlyphs" stroke="#363a45" stroke-width="0.3" >Dec</text>
<text x="124.5" y="627.9" font-size="15.6" fill="#363a45" textLength="36.5" lengthAdjust="spacingAndGlyphs" font-weight="bold" >2021</text>
<text x="349.3" y="627.9" font-size="15.6" fill="#363a45" textLength="26.2" lengthAdjust="spacingAndGlyphs" stroke="#363a45" stroke-width="0.3" >Mar</text>
<text x="475.8" y="627.9" font-size="15.6" fill="#363a45" textLength="24.7" lengthAdjust="spacingAndGlyphs" stroke="#363a45" stroke-width="0.3" >Apr</text>
<text x="594.2" y="627.9" font-size="15.6" fill="#363a45" textLength="28.9" lengthAdjust="spacingAndGlyphs" stroke="#363a45" stroke-width="0.3" >May</text>
<text x="716.4" y="627.9" font-size="15.6" fill="#363a45" textLength="25.5" lengthAdjust="spacingAndGlyphs" stroke="#363a45" stroke-width="0.3" >Jun</text>
<text x="839.1" y="627.9" font-size="15.6" fill="#363a45" textLength="21.2" lengthAdjust="spacingAndGlyphs" stroke="#363a45" stroke-width="0.3" >Jul</text>
<text x="957.1" y="627.9" font-size="15.6" fill="#363a45" textLength="25.8" lengthAdjust="spacingAndGlyphs" stroke="#363a45" stroke-width="0.3" >Aug</text>
<text x="1077.4" y="627.9" font-size="15.6" fill="#363a45" textLength="25.8" lengthAdjust="spacingAndGlyphs" stroke="#363a45" stroke-width="0.3" >Sep</text>
<text x="1220.1" y="627.9" font-size="15.6" fill="#363a45" textLength="25.1" lengthAdjust="spacingAndGlyphs" stroke="#363a45" stroke-width="0.3" >Oct</text>
<g style="filter:drop-shadow(0 0 1.3px #fff)">
<clipPath id="ct"><rect x="0" y="10" width="229" height="32"/></clipPath><g clip-path="url(#ct)">
<text x="16.5" y="33.8" font-size="17.8" fill="#50535e" textLength="164.5" lengthAdjust="spacingAndGlyphs" stroke="#50535e" stroke-width="0.3" >Euro / British Pound,</text>
<text x="193.2" y="33.8" font-size="17.2" fill="#50535e" textLength="22.4" lengthAdjust="spacingAndGlyphs" stroke="#50535e" stroke-width="0.3" >1D,</text>
<text x="224.4" y="33.8" font-size="17.2" fill="#50535e" textLength="10.5" lengthAdjust="spacingAndGlyphs" stroke="#50535e" stroke-width="0.3" >F</text>
</g>
<text x="325.3" y="33.8" font-size="17.2" fill="#50535e" textLength="11.9" lengthAdjust="spacingAndGlyphs" stroke="#50535e" stroke-width="0.3" >O</text>
<text x="337.8" y="33.8" font-size="17.2" fill="#131722" textLength="62.2" lengthAdjust="spacingAndGlyphs" stroke="#131722" stroke-width="0.3" >0.85353</text>
<text x="410.5" y="33.8" font-size="17.2" fill="#50535e" textLength="12.7" lengthAdjust="spacingAndGlyphs" stroke="#50535e" stroke-width="0.3" >H</text>
<text x="423.7" y="33.8" font-size="17.2" fill="#131722" textLength="62.1" lengthAdjust="spacingAndGlyphs" stroke="#131722" stroke-width="0.3" >0.85387</text>
<text x="497.1" y="33.8" font-size="17.2" fill="#50535e" textLength="9.2" lengthAdjust="spacingAndGlyphs" stroke="#50535e" stroke-width="0.3" >L</text>
<text x="506.8" y="33.8" font-size="17.2" fill="#131722" textLength="62.1" lengthAdjust="spacingAndGlyphs" stroke="#131722" stroke-width="0.3" >0.85302</text>
<text x="580.2" y="33.8" font-size="17.2" fill="#50535e" textLength="9.9" lengthAdjust="spacingAndGlyphs" stroke="#50535e" stroke-width="0.3" >C</text>
<text x="591.5" y="33.8" font-size="17.2" fill="#131722" textLength="62.6" lengthAdjust="spacingAndGlyphs" stroke="#131722" stroke-width="0.3" >0.85330</text>
<text x="665.9" y="33.8" font-size="17.2" fill="#131722" textLength="70.3" lengthAdjust="spacingAndGlyphs" stroke="#131722" stroke-width="0.3" >−0.00023</text>
<text x="744.1" y="33.8" font-size="17.2" fill="#131722" textLength="66.5" lengthAdjust="spacingAndGlyphs" stroke="#131722" stroke-width="0.3" >(−0.03%)</text>
<text x="15.9" y="59.9" font-size="17.2" fill="#50535e" textLength="134.9" lengthAdjust="spacingAndGlyphs" stroke="#50535e" stroke-width="0.3" >MA (50, close, 0)</text>
<text x="163.3" y="59.9" font-size="17.2" fill="#b2b5be" textLength="62.2" lengthAdjust="spacingAndGlyphs" stroke="#b2b5be" stroke-width="0.3" >0.85466</text>
<text x="15.9" y="85.7" font-size="17.2" fill="#50535e" textLength="144.3" lengthAdjust="spacingAndGlyphs" stroke="#50535e" stroke-width="0.3" >MA (100, close, 0)</text>
<text x="172.6" y="85.7" font-size="17.2" fill="#22c3d8" textLength="62.3" lengthAdjust="spacingAndGlyphs" stroke="#22c3d8" stroke-width="0.3" >0.85777</text>
<text x="16.1" y="485.6" font-size="17.2" fill="#50535e" textLength="277.6" lengthAdjust="spacingAndGlyphs" stroke="#50535e" stroke-width="0.3" >MACD (12, 26, close, 9, EMA, EMA)</text>
<text x="306.1" y="485.6" font-size="17.2" fill="#ff5252" textLength="71.1" lengthAdjust="spacingAndGlyphs" stroke="#ff5252" stroke-width="0.3" >−0.00056</text>
<text x="389" y="485.6" font-size="17.2" fill="#2962ff" textLength="62" lengthAdjust="spacingAndGlyphs" stroke="#2962ff" stroke-width="0.3" >0.00015</text>
<text x="463.9" y="485.6" font-size="17.2" fill="#ff6d00" textLength="59.6" lengthAdjust="spacingAndGlyphs" stroke="#ff6d00" stroke-width="0.3" >0.00071</text>
</g>
<rect x="11.2" y="362.3" width="298.7" height="70.3" fill="#19242e"/>
<text transform="scale(0.98,1)" y="412.6" font-size="45" fill="#fff" stroke="#fff" stroke-width="0.7" stroke-linejoin="round" x="27.79 62.88 78.11 107.22">CITY</text>
<text transform="scale(0.98,1)" y="412.6" font-size="45" fill="#f7ee1c" stroke="#f7ee1c" stroke-width="0.7" stroke-linejoin="round" x="152.53 167.76 204.63 239.33 271.61">INDEX</text>
<path d="M4.1 662.1H16V676.7H10V667.7H4.1z" fill="#131722"/><circle cx="20.6" cy="665.2" r="3" fill="#131722"/><path d="M25.8 662.1H33.2L28.4 676.7H21.1z" fill="#131722"/>
<text x="39.4" y="677.3" font-size="18.6" fill="#131722" textLength="104.5" lengthAdjust="spacingAndGlyphs" stroke="#131722" stroke-width="0.3" >TradingView</text>
</svg></body></html>
